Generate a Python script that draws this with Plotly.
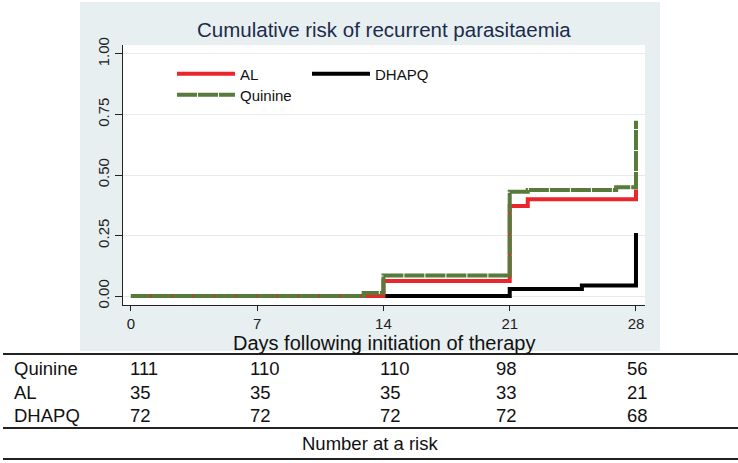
import plotly.graph_objects as go

# ---- data ----
quinine_days = [0, 12.9, 14, 21, 22, 26.9, 28]
quinine_risk = [0, 0.013, 0.085, 0.431, 0.438, 0.449, 0.724]

al_days = [0, 14, 21, 22, 28]
al_risk = [0, 0.062, 0.372, 0.400, 0.440]

dhapq_days = [0, 21, 25, 28]
dhapq_risk = [0, 0.029, 0.044, 0.260]

x_ticks = [0, 7, 14, 21, 28]
y_ticks = [0, 0.25, 0.5, 0.75, 1.0]
y_ticktext = ["0.00", "0.25", "0.50", "0.75", "1.00"]

risk_groups = ["Quinine", "AL", "DHAPQ"]
risk_quinine = [111, 110, 110, 98, 56]
risk_al = [35, 35, 35, 33, 21]
risk_dhapq = [72, 72, 72, 72, 68]
risk_rows = [risk_quinine, risk_al, risk_dhapq]

title_text = "Cumulative risk of recurrent parasitaemia"
xaxis_title = "Days following initiation of therapy"
table_title = "Number at a risk"

# ---- layout geometry (pixels) ----
W, H = 738, 463
L, R, T, B = 123, 93, 45, 158
PW, PH = W - L - R, H - T - B


def px_x(p):
    return (p - L) / PW


def px_y(p):
    return (H - B - p) / PH


FONT = "Liberation Sans, Arial, sans-serif"
GREEN = "#587a3a"
RED = "#e8262b"
BLACK = "#000000"

fig = go.Figure()

fig.add_trace(go.Scatter(x=dhapq_days, y=dhapq_risk, mode="lines", line_shape="hv",
                         line=dict(color=BLACK, width=4), name="DHAPQ", legend="legend2",
                         showlegend=True))
fig.add_trace(go.Scatter(x=al_days, y=al_risk, mode="lines", line_shape="hv",
                         line=dict(color=RED, width=4), name="AL", legend="legend",
                         showlegend=True))
fig.add_trace(go.Scatter(x=quinine_days, y=quinine_risk, mode="lines", line_shape="hv",
                         line=dict(color=GREEN, width=4, dash="20px,1px"), name="Quinine",
                         legend="legend3", showlegend=True))

shapes = [
    dict(type="rect", xref="paper", yref="paper", x0=px_x(80), x1=px_x(660),
         y0=px_y(351), y1=px_y(2), fillcolor="#e8eff0", line=dict(width=0), layer="below"),
    dict(type="rect", xref="paper", yref="paper", x0=0, x1=1, y0=0, y1=1,
         fillcolor="white", line=dict(width=0), layer="below"),
]
for ly in [354, 428, 459]:
    shapes.append(dict(type="line", xref="paper", yref="paper", x0=px_x(3), x1=px_x(738),
                       y0=px_y(ly), y1=px_y(ly), line=dict(color="#222222", width=2)))

annotations = [
    dict(text=title_text, xref="paper", yref="paper", x=0.5, y=px_y(29),
         xanchor="center", yanchor="middle", showarrow=False,
         font=dict(family=FONT, size=20.5, color="#1c2b4d")),
    dict(text=xaxis_title, xref="paper", yref="paper", x=0.5, y=px_y(343),
         xanchor="center", yanchor="middle", showarrow=False,
         font=dict(family=FONT, size=20, color="#111111")),
    dict(text=table_title, xref="paper", yref="paper", x=px_x(370), y=px_y(443),
         xanchor="center", yanchor="middle", showarrow=False,
         font=dict(family=FONT, size=18.5, color="#111111")),
]
row_y = [368, 392, 415]
col_x = [128, 248, 378, 494, 625]
for gname, vals, ry in zip(risk_groups, risk_rows, row_y):
    annotations.append(dict(text=gname, xref="paper", yref="paper", x=px_x(12), y=px_y(ry),
                            xanchor="left", yanchor="middle", showarrow=False,
                            font=dict(family=FONT, size=18.5, color="#111111")))
    for v, cx in zip(vals, col_x):
        annotations.append(dict(text=str(v), xref="paper", yref="paper", x=px_x(cx), y=px_y(ry),
                                xanchor="left", yanchor="middle", showarrow=False,
                                font=dict(family=FONT, size=18.5, color="#111111")))

leg_common = dict(bgcolor="rgba(0,0,0,0)", borderwidth=0, itemwidth=58,
                  font=dict(family=FONT, size=15, color="#111111"),
                  xanchor="left", yanchor="middle", tracegroupgap=0)

fig.update_layout(
    width=W, height=H,
    margin=dict(l=L, r=R, t=T, b=B, pad=0),
    paper_bgcolor="white", plot_bgcolor="white",
    showlegend=True,
    shapes=shapes, annotations=annotations,
    legend=dict(x=px_x(172), y=px_y(74), **leg_common),
    legend2=dict(x=px_x(307), y=px_y(74), **leg_common),
    legend3=dict(x=px_x(172), y=px_y(95), **leg_common),
    xaxis=dict(range=[-0.44, 28.5], tickvals=x_ticks, ticks="outside", ticklen=5,
               tickcolor="#222222", showline=True, linecolor="#222222", linewidth=1,
               showgrid=False, zeroline=False,
               tickfont=dict(family=FONT, size=15, color="#222222")),
    yaxis=dict(range=[-0.037, 1.037], tickvals=y_ticks, ticktext=y_ticktext,
               ticks="outside", ticklen=7, tickcolor="#222222", tickangle=-90,
               showline=True, linecolor="#222222", linewidth=1,
               showgrid=True, gridcolor="#e4ebed", gridwidth=1, zeroline=False,
               tickfont=dict(family=FONT, size=15, color="#222222")),
)

fig.write_html("out.html", config={"displayModeBar": False},
               post_script="document.body.style.margin='0px';")
